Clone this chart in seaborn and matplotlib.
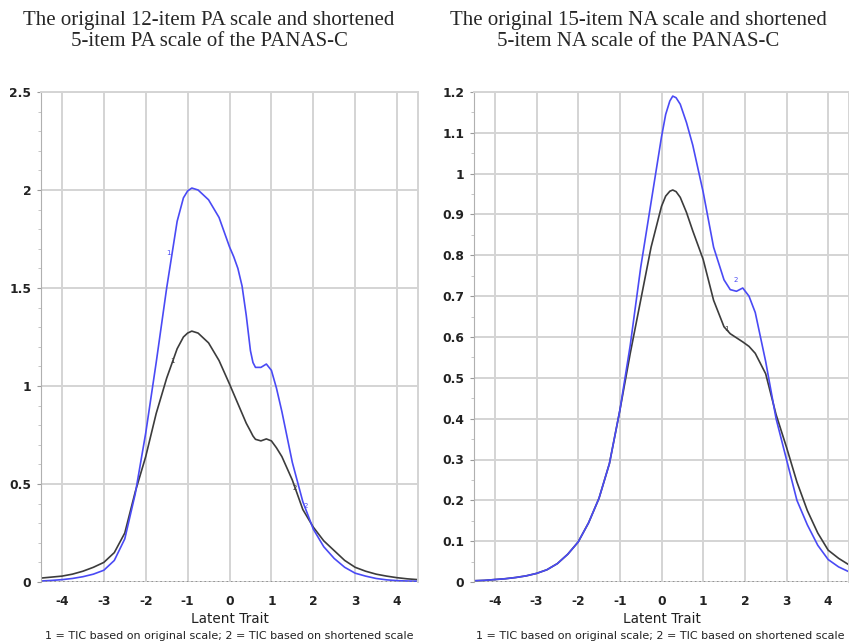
import pandas as pd
import numpy as np
import seaborn as sns
import matplotlib.pyplot as plt
from matplotlib.ticker import MultipleLocator

# latent trait grid and test information values
pa_x = [-4.5, -4.25, -4.0, -3.75, -3.5, -3.25, -3.0, -2.75, -2.5, -2.25, -2.0, -1.75, -1.5,
        -1.25, -1.1, -1.0, -0.9, -0.75, -0.5, -0.25, 0.0, 0.1, 0.2, 0.3, 0.4, 0.5, 0.56, 0.62,
        0.75, 0.88, 1.0, 1.12, 1.25, 1.5, 1.75, 2.0, 2.25, 2.5, 2.75, 3.0, 3.25, 3.5, 3.75,
        4.0, 4.25, 4.5]
pa_original = [0.02, 0.025, 0.03, 0.04, 0.055, 0.075, 0.10, 0.15, 0.25, 0.46, 0.64, 0.86, 1.04,
               1.19, 1.25, 1.27, 1.28, 1.27, 1.22, 1.13, 1.01, 0.96, 0.91, 0.86, 0.81, 0.77, 0.745,
               0.728, 0.72, 0.73, 0.72, 0.685, 0.64, 0.52, 0.37, 0.28, 0.21, 0.16, 0.11, 0.075,
               0.055, 0.04, 0.03, 0.022, 0.016, 0.012]
pa_short = [0.005, 0.008, 0.012, 0.018, 0.027, 0.04, 0.06, 0.11, 0.22, 0.45, 0.76, 1.12, 1.50,
            1.84, 1.96, 1.995, 2.01, 2.0, 1.95, 1.86, 1.71, 1.66, 1.60, 1.51, 1.36, 1.18, 1.12,
            1.095, 1.095, 1.112, 1.08, 0.99, 0.87, 0.61, 0.41, 0.27, 0.18, 0.12, 0.075, 0.045,
            0.03, 0.018, 0.011, 0.007, 0.005, 0.004]

na_x = [-4.5, -4.25, -4.0, -3.75, -3.5, -3.25, -3.0, -2.75, -2.5, -2.25, -2.0, -1.75, -1.5,
        -1.25, -1.0, -0.75, -0.5, -0.25, 0.0, 0.1, 0.2, 0.27, 0.35, 0.45, 0.6, 0.75, 1.0, 1.25,
        1.5, 1.65, 1.8, 1.95, 2.1, 2.25, 2.5, 2.75, 3.0, 3.25, 3.5, 3.75, 4.0, 4.25, 4.5]
na_original = [0.003, 0.004, 0.006, 0.008, 0.011, 0.015, 0.021, 0.03, 0.045, 0.068, 0.098, 0.145,
               0.205, 0.29, 0.42, 0.56, 0.69, 0.82, 0.92, 0.945, 0.957, 0.96, 0.956, 0.942, 0.905,
               0.86, 0.79, 0.69, 0.625, 0.608, 0.598, 0.588, 0.577, 0.56, 0.51, 0.41, 0.33, 0.245,
               0.175, 0.12, 0.078, 0.058, 0.042]
na_short = [0.003, 0.004, 0.006, 0.008, 0.011, 0.015, 0.021, 0.03, 0.045, 0.068, 0.098, 0.145,
            0.205, 0.29, 0.42, 0.58, 0.77, 0.93, 1.09, 1.145, 1.178, 1.19, 1.186, 1.17, 1.125,
            1.07, 0.955, 0.82, 0.74, 0.716, 0.712, 0.72, 0.70, 0.66, 0.54, 0.40, 0.30, 0.20,
            0.14, 0.09, 0.055, 0.037, 0.025]

titles = ['The original 12-item PA scale and shortened\n5-item PA scale of the PANAS-C',
          'The original 15-item NA scale and shortened\n5-item NA scale of the PANAS-C']
xlabel = 'Latent Trait'
footnote = '1 = TIC based on original scale; 2 = TIC based on shortened scale'

sns.set_style('white')

blue = '#4a4af5'
dark = '#3c3c3c'
grid = '#d4d4d4'

fig = plt.figure(figsize=(8.49, 6.43), dpi=100)
ax1 = fig.add_axes([41 / 849, 61 / 643, 377 / 849, 490 / 643])
ax2 = fig.add_axes([474 / 849, 61 / 643, 375 / 849, 490 / 643])

panels = [
    (ax1, pa_x, pa_original, pa_short, 2.5, 0.5, 0.1),
    (ax2, na_x, na_original, na_short, 1.2, 0.1, 0.05),
]

for ax, xs, orig, short, ymax, major, minor in panels:
    df = pd.DataFrame({'x': xs + xs,
                       'y': orig + short,
                       'scale': ['1'] * len(xs) + ['2'] * len(xs)})
    sns.lineplot(data=df, x='x', y='y', hue='scale', palette={'1': dark, '2': blue},
                 linewidth=1.2, legend=False, ax=ax)
    ax.set_xlim(-4.5, 4.5)
    ax.set_ylim(0, ymax)
    ax.set_xticks(range(-4, 5))
    ax.set_xticklabels([str(v) for v in range(-4, 5)])
    ax.yaxis.set_major_locator(MultipleLocator(major))
    ax.yaxis.set_minor_locator(MultipleLocator(minor))
    ax.set_yticklabels(['0' if abs(v) < 1e-9 else ('%g' % v) for v in ax.get_yticks()])
    ax.grid(True, color=grid, linewidth=1.4)
    ax.set_axisbelow(True)
    ax.axhline(0, color='#888888', linestyle=':', linewidth=1.2)
    for side in ['top', 'right']:
        ax.spines[side].set_color(grid)
        ax.spines[side].set_linewidth(1.4)
    ax.spines['bottom'].set_visible(False)
    ax.spines['left'].set_color('#b0b0b0')
    ax.spines['left'].set_linewidth(0.8)
    ax.tick_params(axis='y', which='major', left=True, length=3, width=0.8, color='#999999', pad=4)
    ax.tick_params(axis='y', which='minor', left=True, length=2, width=0.6, color='#bbbbbb')
    ax.tick_params(axis='x', bottom=False, pad=6)
    for lab in ax.get_xticklabels() + ax.get_yticklabels():
        lab.set_fontfamily('DejaVu Sans')
        lab.set_fontweight('bold')
        lab.set_fontsize(8.8)
        lab.set_color('#222222')
    ax.set_xlabel(xlabel, fontsize=9.8, family='DejaVu Sans', color='#222222', labelpad=3)
    ax.set_ylabel('')

# small curve numbers
ax1.text(-1.36, 1.13, '1', fontsize=5, color=dark, ha='center', va='center')
ax1.text(-1.45, 1.68, '1', fontsize=5, color=blue, ha='center', va='center')
ax1.text(1.56, 0.48, '2', fontsize=5, color=dark, ha='center', va='center')
ax1.text(1.82, 0.39, '2', fontsize=5, color=blue, ha='center', va='center')
ax2.text(1.55, 0.62, '1', fontsize=5, color=dark, ha='center', va='center')
ax2.text(1.78, 0.74, '2', fontsize=5, color=blue, ha='center', va='center')

fig.text(209 / 849, 1 - 31 / 643, titles[0], ha='center', va='center', family='Liberation Serif',
         fontsize=15, linespacing=1.15)
fig.text(638 / 849, 1 - 31 / 643, titles[1], ha='center', va='center', family='Liberation Serif',
         fontsize=15, linespacing=1.15)
fig.text(229 / 849, 1 - 636 / 643, footnote, ha='center', va='center', family='DejaVu Sans',
         fontsize=8.0, color='#222222')
fig.text(660 / 849, 1 - 636 / 643, footnote, ha='center', va='center', family='DejaVu Sans',
         fontsize=8.0, color='#222222')

fig.savefig('out.png', dpi=100)
